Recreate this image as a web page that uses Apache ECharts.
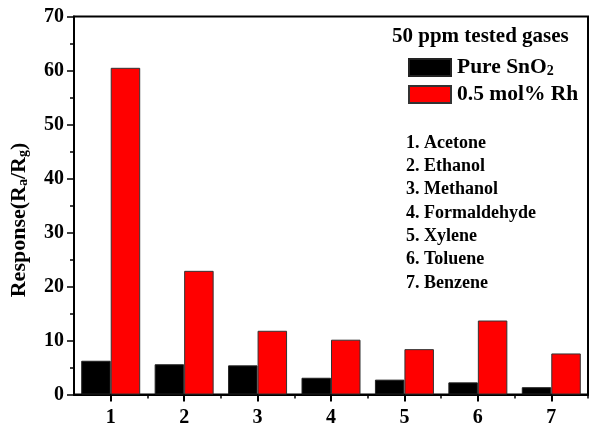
<!DOCTYPE html>
<html>
<head>
<meta charset="utf-8">
<script src="https://cdn.jsdelivr.net/npm/echarts@6/dist/echarts.min.js"></script>
<style>html,body{margin:0;padding:0;background:#fff}#c{width:595px;height:431px}</style>
</head>
<body>
<div id="c"></div>
<script>
var categories = [1, 2, 3, 4, 5, 6, 7];
var gasNames = ['Acetone', 'Ethanol', 'Methanol', 'Formaldehyde', 'Xylene', 'Toluene', 'Benzene'];
var pureSnO2 = [6.25, 5.6, 5.4, 3.1, 2.75, 2.25, 1.35];
var rhDoped = [60.5, 22.9, 11.8, 10.15, 8.4, 13.7, 7.6];
var yTicks = [0, 10, 20, 30, 40, 50, 60, 70];
var minorX = [1.5, 2.5, 3.5, 4.5, 5.5, 6.5, 7.5];

var FONT = '"Liberation Serif", "Times New Roman", serif';
var chart = echarts.init(document.getElementById('c'), null, {renderer: 'canvas'});
var option = {
  animation: false,
  backgroundColor: '#fff',
  title: [
    {text: '50 ppm tested gases', left: 392, top: 26, padding: 0,
     textStyle: {fontFamily: FONT, fontWeight: 'bold', fontSize: 21, color: '#000'}},
    {text: categories.map(function (c, i) { return c + '. ' + gasNames[i]; }).join('\n'),
     left: 406, top: 131.5, padding: 0,
     textStyle: {fontFamily: FONT, fontWeight: 'bold', fontSize: 18, lineHeight: 23.3, color: '#000'}}
  ],
  legend: {
    orient: 'vertical', left: 408, top: 56.5, padding: 0,
    itemWidth: 42, itemHeight: 17, itemGap: 5, icon: 'rect',
    data: ['Pure SnO2', '0.5 mol% Rh'],
    formatter: function (n) { return n === 'Pure SnO2' ? 'Pure SnO{sub|2}' : n; },
    textStyle: {fontFamily: FONT, fontWeight: 'bold', fontSize: 21.5, color: '#000', padding: [0, 0, 0, 1],
      rich: {sub: {fontFamily: FONT, fontWeight: 'bold', fontSize: 14, padding: [8, 0, 0, 0]}}}
  },
  grid: {left: 74, right: 7, top: 16.5, bottom: 36.5, show: true, borderColor: '#000', borderWidth: 2, backgroundColor: 'transparent'},
  xAxis: [
    {type: 'value', min: 0.5, max: 7.5, position: 'bottom',
     axisLine: {show: true, onZero: false, lineStyle: {color: '#000', width: 2}},
     axisTick: {show: true, customValues: categories, length: 7, lineStyle: {color: '#000', width: 2}},
     axisLabel: {customValues: categories, margin: 13, fontFamily: FONT, fontWeight: 'bold', fontSize: 20, color: '#000'},
     splitLine: {show: false}},
    {type: 'value', min: 0.5, max: 7.5, position: 'bottom',
     axisLine: {show: false},
     axisTick: {show: true, customValues: minorX, length: 4, lineStyle: {color: '#000', width: 1.5}},
     axisLabel: {show: false}, splitLine: {show: false}}
  ],
  yAxis: {
    type: 'value', min: 0, max: 70, interval: 10,
    name: 'Response(R{sub|a}/R{sub|g})', nameLocation: 'middle', nameGap: 44, nameRotate: 90,
    nameTextStyle: {fontFamily: FONT, fontWeight: 'bold', fontSize: 22, color: '#000', padding: [0, 29, 0, 0],
      rich: {sub: {fontFamily: FONT, fontWeight: 'bold', fontSize: 14, padding: [8, 0, 0, 0]}}},
    axisLine: {show: true, lineStyle: {color: '#000', width: 2}},
    axisTick: {show: true, length: 7, lineStyle: {color: '#000', width: 1.5}},
    minorTick: {show: true, splitNumber: 2, length: 4, lineStyle: {color: '#000', width: 1.5}},
    axisLabel: {margin: 10, fontFamily: FONT, fontWeight: 'bold', fontSize: 20, color: '#000',
      formatter: function (v) { return yTicks.indexOf(v) >= 0 ? String(v) : ''; }},
    splitLine: {show: false}
  },
  series: [
    {name: 'Pure SnO2', type: 'bar', xAxisIndex: 0, barWidth: 29.5, barGap: '0%',
     itemStyle: {color: '#000', borderColor: '#222', borderWidth: 1},
     data: categories.map(function (c, i) { return [c, pureSnO2[i]]; })},
    {name: '0.5 mol% Rh', type: 'bar', xAxisIndex: 0, barWidth: 29.5, barGap: '0%',
     itemStyle: {color: '#ff0000', borderColor: '#333', borderWidth: 1},
     data: categories.map(function (c, i) { return [c, rhDoped[i]]; })}
  ]
};
chart.setOption(option);
</script>
</body>
</html>
